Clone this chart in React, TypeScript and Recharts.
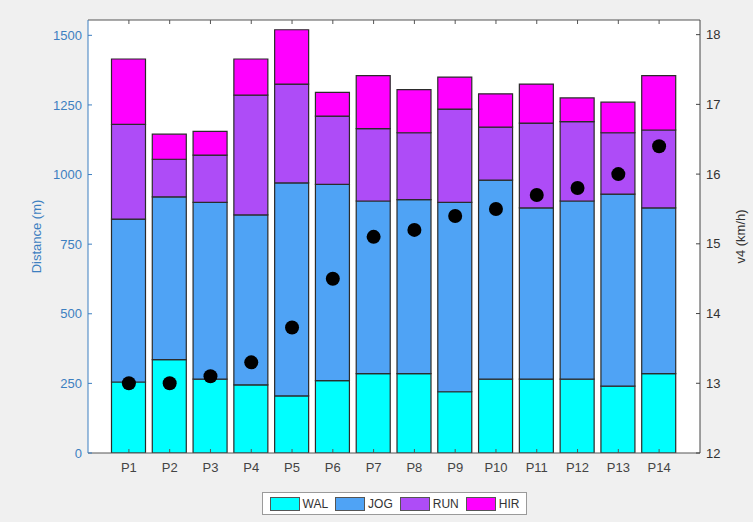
import { ComposedChart, Bar, Line, XAxis, YAxis, CartesianGrid } from 'recharts'

const categories = ['P1', 'P2', 'P3', 'P4', 'P5', 'P6', 'P7', 'P8', 'P9', 'P10', 'P11', 'P12', 'P13', 'P14']
const wal = [255, 335, 265, 245, 205, 260, 285, 285, 220, 265, 265, 265, 240, 285]
const jog = [585, 585, 635, 610, 765, 705, 620, 625, 680, 715, 615, 640, 690, 595]
const run = [340, 135, 170, 430, 355, 245, 260, 240, 335, 190, 305, 285, 220, 280]
const hir = [235, 90, 85, 130, 195, 85, 190, 155, 115, 120, 140, 85, 110, 195]
const v4 = [13.0, 13.0, 13.1, 13.3, 13.8, 14.5, 15.1, 15.2, 15.4, 15.5, 15.7, 15.8, 16.0, 16.4]

const distanceTicks = [0, 250, 500, 750, 1000, 1250, 1500]
const speedTicks = [12, 13, 14, 15, 16, 17, 18]

const SERIES = [
  { key: 'WAL', color: '#00ffff' },
  { key: 'JOG', color: '#4fa3f5' },
  { key: 'RUN', color: '#ae4cf7' },
  { key: 'HIR', color: '#ff00ff' },
]

const data = categories.map((name, i) => ({
  name,
  WAL: wal[i],
  JOG: jog[i],
  RUN: run[i],
  HIR: hir[i],
  v4: v4[i],
}))

const FONT = '"Liberation Sans", Arial, sans-serif'
const LEFT_COLOR = '#3d7fc0'

const AxisTitle = (props: any) => {
  const { viewBox, text, dx, color } = props
  const x = viewBox.x + dx
  const y = viewBox.y + viewBox.height / 2
  return (
    <text
      x={x}
      y={y}
      transform={`rotate(-90, ${x}, ${y})`}
      textAnchor="middle"
      dominantBaseline="central"
      fontSize={13}
      fontFamily={FONT}
      fill={color}
    >
      {text}
    </text>
  )
}

// top box edge: tick marks only, no labels
const NoLabel = () => <g />

export default function App() {
  return (
    <div style={{ position: 'absolute', left: 0, top: 0, width: 753, height: 522, background: '#f0f0f0', fontFamily: FONT }}>
      <ComposedChart width={753} height={522} data={data} margin={{ top: 19, right: 0, bottom: 39, left: 0 }} barGap={0}>
        <CartesianGrid fill="#ffffff" horizontal={false} vertical={false} stroke="none" />
        <XAxis
          dataKey="name"
          padding={{ left: 20.5, right: 20.5 }}
          height={30}
          stroke="#555"
          tickSize={-4}
          tickMargin={14}
          tick={{ fill: '#444', fontSize: 13, fontFamily: FONT }}
        />
        <XAxis
          xAxisId="top"
          orientation="top"
          dataKey="name"
          padding={{ left: 20.5, right: 20.5 }}
          height={1}
          stroke="#555"
          tickLine={{ stroke: '#555' }}
          tickSize={-4}
          tick={<NoLabel />}
        />
        <YAxis
          yAxisId="left"
          width={88}
          domain={[0, 1555]}
          ticks={distanceTicks}
          allowDataOverflow
          stroke={LEFT_COLOR}
          tickSize={-4}
          tickMargin={10}
          tick={{ fill: LEFT_COLOR, fontSize: 13, fontFamily: FONT }}
          label={{ content: (p: any) => <AxisTitle {...p} text="Distance (m)" dx={36} color={LEFT_COLOR} /> }}
        />
        <YAxis
          yAxisId="right"
          orientation="right"
          width={53}
          domain={[12, 18.21]}
          ticks={speedTicks}
          allowDataOverflow
          stroke="#444"
          tickSize={-4}
          tickMargin={10}
          tick={{ fill: '#333', fontSize: 13, fontFamily: FONT, textAnchor: 'start' }}
          label={{ content: (p: any) => <AxisTitle {...p} text="v4 (km/h)" dx={40} color="#333" /> }}
        />
        {SERIES.map(s => (
          <Bar
            key={s.key}
            dataKey={s.key}
            yAxisId="left"
            stackId="dist"
            fill={s.color}
            stroke="#2b2b2b"
            strokeWidth={1.2}
            barSize={34}
            isAnimationActive={false}
          />
        ))}
        <Line
          dataKey="v4"
          yAxisId="right"
          stroke="none"
          dot={{ r: 7, fill: '#000', stroke: '#000', strokeWidth: 0 }}
          activeDot={false}
          isAnimationActive={false}
        />
      </ComposedChart>
      <div
        style={{
          position: 'absolute',
          left: 262,
          top: 492,
          width: 265,
          height: 23,
          boxSizing: 'border-box',
          border: '1px solid #9a9a9a',
          background: '#ffffff',
          display: 'flex',
          alignItems: 'center',
          justifyContent: 'space-around',
          padding: '0 3px',
          fontSize: 12,
          color: '#333',
        }}
      >
        {SERIES.map(s => (
          <div key={s.key} style={{ display: 'flex', alignItems: 'center' }}>
            <span style={{ display: 'inline-block', width: 28, height: 12, background: s.color, border: '1px solid #555', marginRight: 3 }} />
            <span>{s.key}</span>
          </div>
        ))}
      </div>
    </div>
  )
}
